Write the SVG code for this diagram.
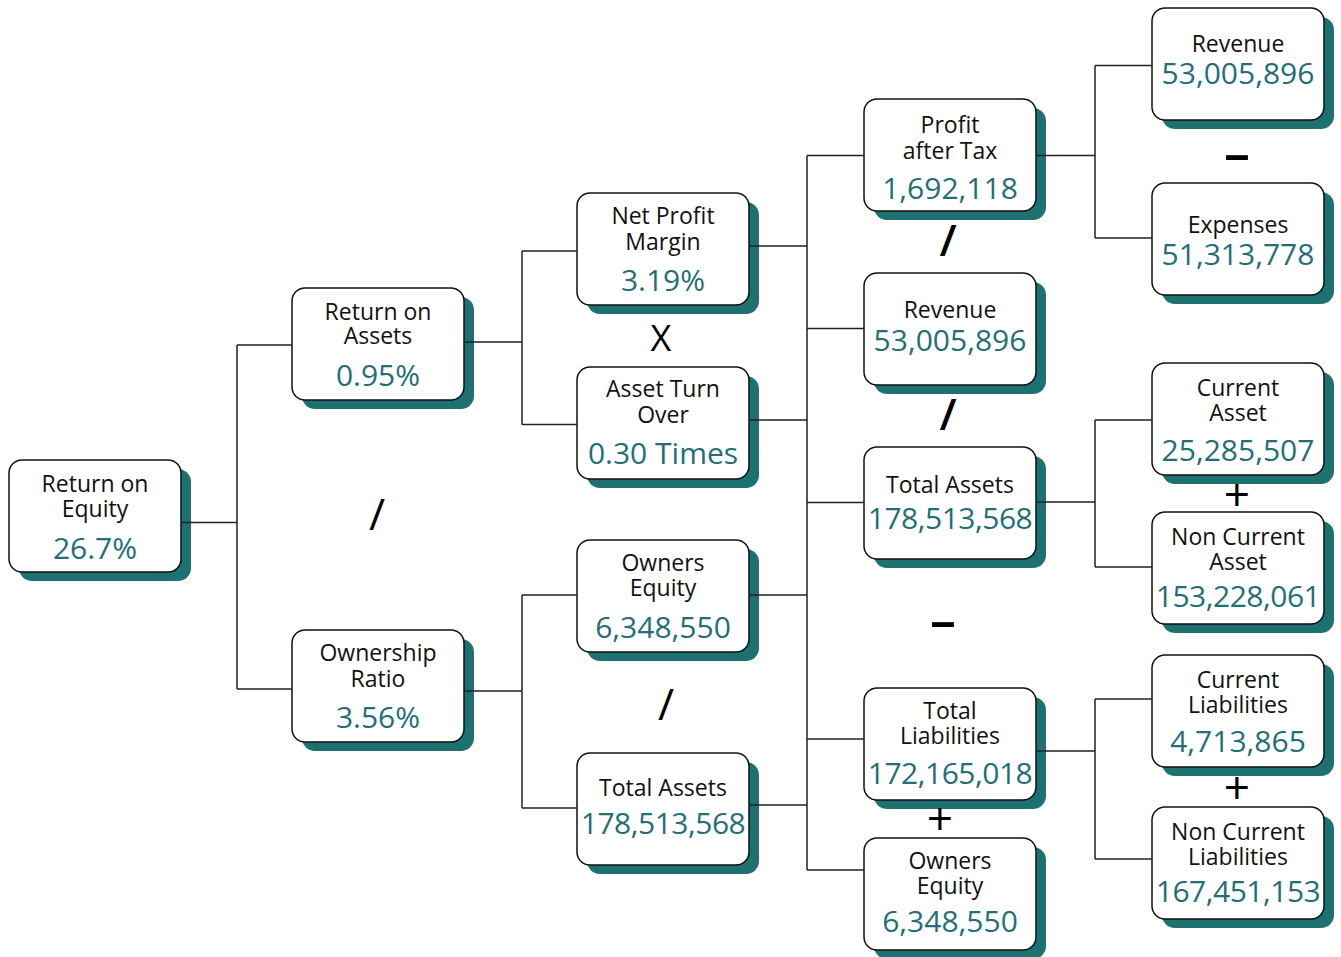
<svg xmlns="http://www.w3.org/2000/svg" width="1341" height="957" viewBox="0 0 1341 957">
<defs>
<style>
.sh{fill:#1d7171}
.bx{fill:#fff;stroke:#111;stroke-width:1.5}
.lb{font-family:"Open Sans","Noto Sans",sans-serif;font-size:23px;fill:#111;text-anchor:middle}
.vl{font-family:"Open Sans","Noto Sans",sans-serif;font-size:30px;fill:#236f78;text-anchor:middle}
.lg{letter-spacing:-0.5px}
.op{font-family:"Open Sans","Noto Sans",sans-serif;fill:#000;text-anchor:middle}
.cn{fill:none;stroke:#222;stroke-width:1.5}
</style>
</defs>
<rect width="1341" height="957" fill="#fff"/>

<g id="roe"><rect class="sh" x="19" y="469" width="172" height="112" rx="13"/><rect class="bx" x="9" y="460" width="172" height="112" rx="13"/>
<text class="lb" x="95" y="491.5">Return on</text><text class="lb" x="95" y="516.5">Equity</text><text class="vl" x="95" y="558.5">26.7%</text></g>

<g id="roa"><rect class="sh" x="302" y="297" width="172" height="112" rx="13"/><rect class="bx" x="292" y="288" width="172" height="112" rx="13"/>
<text class="lb" x="378" y="319.5">Return on</text><text class="lb" x="378" y="344">Assets</text><text class="vl" x="378" y="386">0.95%</text></g>

<g id="own"><rect class="sh" x="302" y="639" width="172" height="112" rx="13"/><rect class="bx" x="292" y="630" width="172" height="112" rx="13"/>
<text class="lb" x="378" y="661">Ownership</text><text class="lb" x="378" y="687">Ratio</text><text class="vl" x="378" y="728">3.56%</text></g>

<g id="npm"><rect class="sh" x="587" y="202" width="172" height="112" rx="13"/><rect class="bx" x="577" y="193" width="172" height="112" rx="13"/>
<text class="lb" x="663" y="223.5">Net Profit</text><text class="lb" x="663" y="249.5">Margin</text><text class="vl" x="663" y="291">3.19%</text></g>

<g id="ato"><rect class="sh" x="587" y="376" width="172" height="112" rx="13"/><rect class="bx" x="577" y="367" width="172" height="112" rx="13"/>
<text class="lb" x="663" y="397">Asset Turn</text><text class="lb" x="663" y="423">Over</text><text class="vl" x="663" y="463.5">0.30 Times</text></g>

<g id="oe2"><rect class="sh" x="587" y="549" width="172" height="112" rx="13"/><rect class="bx" x="577" y="540" width="172" height="112" rx="13"/>
<text class="lb" x="663" y="571">Owners</text><text class="lb" x="663" y="596">Equity</text><text class="vl" x="663" y="637.5">6,348,550</text></g>

<g id="ta2"><rect class="sh" x="587" y="762" width="172" height="112" rx="13"/><rect class="bx" x="577" y="753" width="172" height="112" rx="13"/>
<text class="lb" x="663" y="795.5">Total Assets</text><text class="vl lg" x="663" y="834">178,513,568</text></g>

<g id="pat"><rect class="sh" x="874" y="108" width="172" height="112" rx="13"/><rect class="bx" x="864" y="99" width="172" height="112" rx="13"/>
<text class="lb" x="950" y="132.5">Profit</text><text class="lb" x="950" y="158.5">after Tax</text><text class="vl" x="950" y="198.5">1,692,118</text></g>

<g id="rev3"><rect class="sh" x="874" y="282" width="172" height="112" rx="13"/><rect class="bx" x="864" y="273" width="172" height="112" rx="13"/>
<text class="lb" x="950" y="317.5">Revenue</text><text class="vl" x="950" y="350.5">53,005,896</text></g>

<g id="ta3"><rect class="sh" x="874" y="456" width="172" height="112" rx="13"/><rect class="bx" x="864" y="447" width="172" height="112" rx="13"/>
<text class="lb" x="950" y="492.5">Total Assets</text><text class="vl lg" x="950" y="528.5">178,513,568</text></g>

<g id="tl"><rect class="sh" x="874" y="697" width="172" height="112" rx="13"/><rect class="bx" x="864" y="688" width="172" height="112" rx="13"/>
<text class="lb" x="950" y="718.5">Total</text><text class="lb" x="950" y="744">Liabilities</text><text class="vl lg" x="950" y="783.5">172,165,018</text></g>

<g id="oe3"><rect class="sh" x="874" y="847" width="172" height="112" rx="13"/><rect class="bx" x="864" y="838" width="172" height="112" rx="13"/>
<text class="lb" x="950" y="868.5">Owners</text><text class="lb" x="950" y="893.5">Equity</text><text class="vl" x="950" y="932">6,348,550</text></g>

<g id="rev4"><rect class="sh" x="1162" y="17" width="172" height="112" rx="13"/><rect class="bx" x="1152" y="8" width="172" height="112" rx="13"/>
<text class="lb" x="1238" y="51.5">Revenue</text><text class="vl" x="1238" y="83.5">53,005,896</text></g>

<g id="exp"><rect class="sh" x="1162" y="192" width="172" height="112" rx="13"/><rect class="bx" x="1152" y="183" width="172" height="112" rx="13"/>
<text class="lb" x="1238" y="232.5">Expenses</text><text class="vl" x="1238" y="265">51,313,778</text></g>

<g id="ca"><rect class="sh" x="1162" y="372" width="172" height="112" rx="13"/><rect class="bx" x="1152" y="363" width="172" height="112" rx="13"/>
<text class="lb" x="1238" y="395.5">Current</text><text class="lb" x="1238" y="421">Asset</text><text class="vl" x="1238" y="460.5">25,285,507</text></g>

<g id="nca"><rect class="sh" x="1162" y="521" width="172" height="112" rx="13"/><rect class="bx" x="1152" y="512" width="172" height="112" rx="13"/>
<text class="lb" x="1238" y="545">Non Current</text><text class="lb" x="1238" y="570">Asset</text><text class="vl lg" x="1238" y="606.5">153,228,061</text></g>

<g id="cl"><rect class="sh" x="1162" y="664" width="172" height="112" rx="13"/><rect class="bx" x="1152" y="655" width="172" height="112" rx="13"/>
<text class="lb" x="1238" y="687.5">Current</text><text class="lb" x="1238" y="713">Liabilities</text><text class="vl" x="1238" y="751.5">4,713,865</text></g>

<g id="ncl"><rect class="sh" x="1162" y="816" width="172" height="112" rx="13"/><rect class="bx" x="1152" y="807" width="172" height="112" rx="13"/>
<text class="lb" x="1238" y="839.5">Non Current</text><text class="lb" x="1238" y="864.5">Liabilities</text><text class="vl lg" x="1238" y="901.5">167,451,153</text></g>

<g id="connectors" class="cn">
<path d="M181,522.5H237M237,345V689M237,345H292M237,689H292"/>
<path d="M464,342H522M522,251V424.5M522,251H577M522,424.5H577"/>
<path d="M464,691H522M522,595V808M522,595H577M522,808H577"/>
<path d="M749,246H807M749,420H807M749,595H807M749,805H807"/>
<path d="M807,155.5V870M807,155.5H864M807,328.5H864M807,502.5H864M807,739H864M807,870H864"/>
<path d="M1036,155.5H1095M1095,65.5V238M1095,65.5H1152M1095,238H1152"/>
<path d="M1036,502H1095M1095,420V567M1095,420H1152M1095,567H1152"/>
<path d="M1036,751H1095M1095,699V859M1095,699H1152M1095,859H1152"/>
</g>

<g id="operators">
<text class="op" x="377" y="530" font-size="44">/</text>
<text class="op" x="661" y="351" font-size="36">X</text>
<text class="op" x="948" y="256" font-size="44" font-weight="600">/</text>
<text class="op" x="948" y="430" font-size="44" font-weight="600">/</text>
<text class="op" x="666" y="720" font-size="44">/</text>
<text class="op" x="1237" y="172" font-size="52" font-weight="600">–</text>
<text class="op" x="943" y="639" font-size="52" font-weight="600">–</text>
<text class="op" x="1237" y="511" font-size="46">+</text>
<text class="op" x="940" y="835" font-size="46">+</text>
<text class="op" x="1237" y="804" font-size="46">+</text>
</g>
</svg>
